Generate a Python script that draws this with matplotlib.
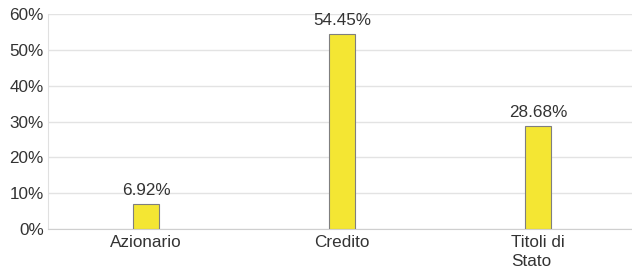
import matplotlib
matplotlib.use("Agg")
import matplotlib.pyplot as plt
from matplotlib.ticker import FuncFormatter

categories = ["Azionario", "Credito", "Titoli di\nStato"]
values = [6.92, 54.45, 28.68]
yticks = [0, 10, 20, 30, 40, 50, 60]

plt.rcParams['font.family'] = ['Liberation Sans', 'DejaVu Sans']

fig = plt.figure(figsize=(6.32, 2.73), dpi=100)
ax = fig.add_axes([48/632, 1-229/273, 588/632, (229-14)/273])

x = list(range(len(categories)))
ax.bar(x, values, width=0.133, color="#f4e633", edgecolor="#7f7f7f", linewidth=0.8, zorder=3)
for xi, v in zip(x, values):
    ax.annotate(f"{v:.2f}%", (xi, v), xytext=(0, 6.5), textcoords="offset points",
                ha="center", va="baseline", fontsize=12.3, color="#333333")

ax.set_xlim(-0.5, 2.5)
ax.set_ylim(0, 60)
ax.set_yticks(yticks)
ax.yaxis.set_major_formatter(FuncFormatter(lambda v, p: f"{v:.0f}%"))
ax.grid(axis="y", color="#e3e3e3", linewidth=1, zorder=0)
ax.set_xticks(x)
ax.set_xticklabels(categories, multialignment="left", linespacing=1.4)
ax.tick_params(axis="both", length=0, labelsize=12.3, colors="#333333")
ax.tick_params(axis="x", pad=4)
ax.tick_params(axis="y", pad=3)
for s in ["top", "right"]:
    ax.spines[s].set_visible(False)
ax.spines["left"].set_color("#e0e0e0")
ax.spines["bottom"].set_color("#cfcfcf")

fig.savefig("out.png", dpi=100)
